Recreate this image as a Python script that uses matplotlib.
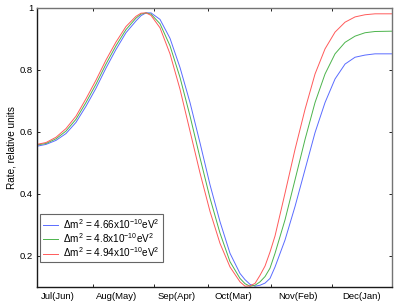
import numpy as np
import matplotlib
matplotlib.use('Agg')
import matplotlib.pyplot as plt

plt.rcParams['font.family'] = ['Liberation Sans', 'DejaVu Sans']
plt.rcParams['mathtext.default'] = 'regular'
plt.rcParams['font.size'] = 6.8

# time axis in months from start of Jul (labels in brackets: mirrored month)
t = [0.0, 0.157, 0.326, 0.495, 0.664, 0.833, 1.002, 1.171, 1.340, 1.509,
     1.678, 1.763, 1.847, 1.932, 2.084, 2.253, 2.422, 2.591, 2.760, 2.929,
     3.098, 3.267, 3.436, 3.521, 3.605, 3.690, 3.774, 3.859, 3.943, 4.028,
     4.197, 4.366, 4.535, 4.704, 4.873, 5.042, 5.211, 5.380, 5.549, 5.718, 6.0]

rate_466 = [0.553, 0.559, 0.572, 0.594, 0.630, 0.682, 0.740, 0.805, 0.865, 0.919,
            0.957, 0.974, 0.983, 0.983, 0.962, 0.901, 0.807, 0.694, 0.564, 0.429,
            0.310, 0.208, 0.143, 0.123, 0.108, 0.102, 0.105, 0.112, 0.127, 0.164,
            0.251, 0.359, 0.478, 0.597, 0.694, 0.770, 0.818, 0.840, 0.847, 0.851, 0.851]

rate_48 = [0.557, 0.562, 0.577, 0.602, 0.640, 0.694, 0.753, 0.818, 0.877, 0.929,
           0.966, 0.979, 0.983, 0.979, 0.948, 0.877, 0.775, 0.651, 0.516, 0.386,
           0.273, 0.181, 0.127, 0.110, 0.102, 0.105, 0.116, 0.133, 0.160, 0.208,
           0.316, 0.445, 0.575, 0.694, 0.786, 0.851, 0.888, 0.908, 0.919, 0.923, 0.924]

rate_494 = [0.559, 0.565, 0.582, 0.610, 0.650, 0.706, 0.766, 0.831, 0.889, 0.939,
            0.972, 0.982, 0.983, 0.975, 0.935, 0.851, 0.737, 0.602, 0.467, 0.343,
            0.240, 0.164, 0.116, 0.102, 0.103, 0.111, 0.137, 0.167, 0.212, 0.264,
            0.402, 0.543, 0.672, 0.786, 0.867, 0.921, 0.953, 0.970, 0.977, 0.980, 0.980]

tick_pos = [0.957, 1.988, 2.890, 3.960, 4.986]
label_pos = [0.35, 1.35, 2.37, 3.32, 4.42, 5.49]
month_labels = ['Jul(Jun)', 'Aug(May)', 'Sep(Apr)', 'Oct(Mar)', 'Nov(Feb)', 'Dec(Jan)']

fig = plt.figure(figsize=(4.15, 3.02), dpi=100)
ax = fig.add_axes([0.0884, 0.0503, 0.8555, 0.9245])

ax.plot(t, rate_466, color='#5a6cff', lw=0.7, label=r'$\Delta$m$^2$ = 4.66x10$^{-10}$eV$^2$')
ax.plot(t, rate_48, color='#4cb44c', lw=0.7, label=r'$\Delta$m$^2$ = 4.8x10$^{-10}$eV$^2$')
ax.plot(t, rate_494, color='#ff5a5a', lw=0.7, label=r'$\Delta$m$^2$ = 4.94x10$^{-10}$eV$^2$')

ax.set_xlim(0, 6)
ax.set_ylim(0.1, 1.0)
ax.set_yticks([0.2, 0.4, 0.6, 0.8, 1.0])
ax.set_yticklabels(['0.2', '0.4', '0.6', '0.8', '1'])
ax.set_xticks(tick_pos)
ax.set_xticklabels([])
ax.set_xticks(label_pos, month_labels, minor=True)
ax.tick_params(which='major', direction='in', length=2.3, width=0.6,
               top=True, right=True, pad=2.5)
ax.tick_params(which='minor', length=0, pad=3.5)

for s in ['left', 'bottom']:
    ax.spines[s].set_color('0.1')
    ax.spines[s].set_linewidth(1.0)
for s in ['top', 'right']:
    ax.spines[s].set_color('0.45')
    ax.spines[s].set_linewidth(1.0)

ax.set_ylabel('Rate, relative units', fontsize=7.2, labelpad=2.5)

leg = ax.legend(loc='lower left', bbox_to_anchor=(0.0093, 0.0885), borderaxespad=0,
                fancybox=False, framealpha=1, edgecolor='0.4',
                handlelength=1.55, handletextpad=0.5, labelspacing=0.05,
                borderpad=0.3, fontsize=7.2)
leg.get_frame().set_linewidth(0.8)

fig.savefig('out.png', dpi=100)
